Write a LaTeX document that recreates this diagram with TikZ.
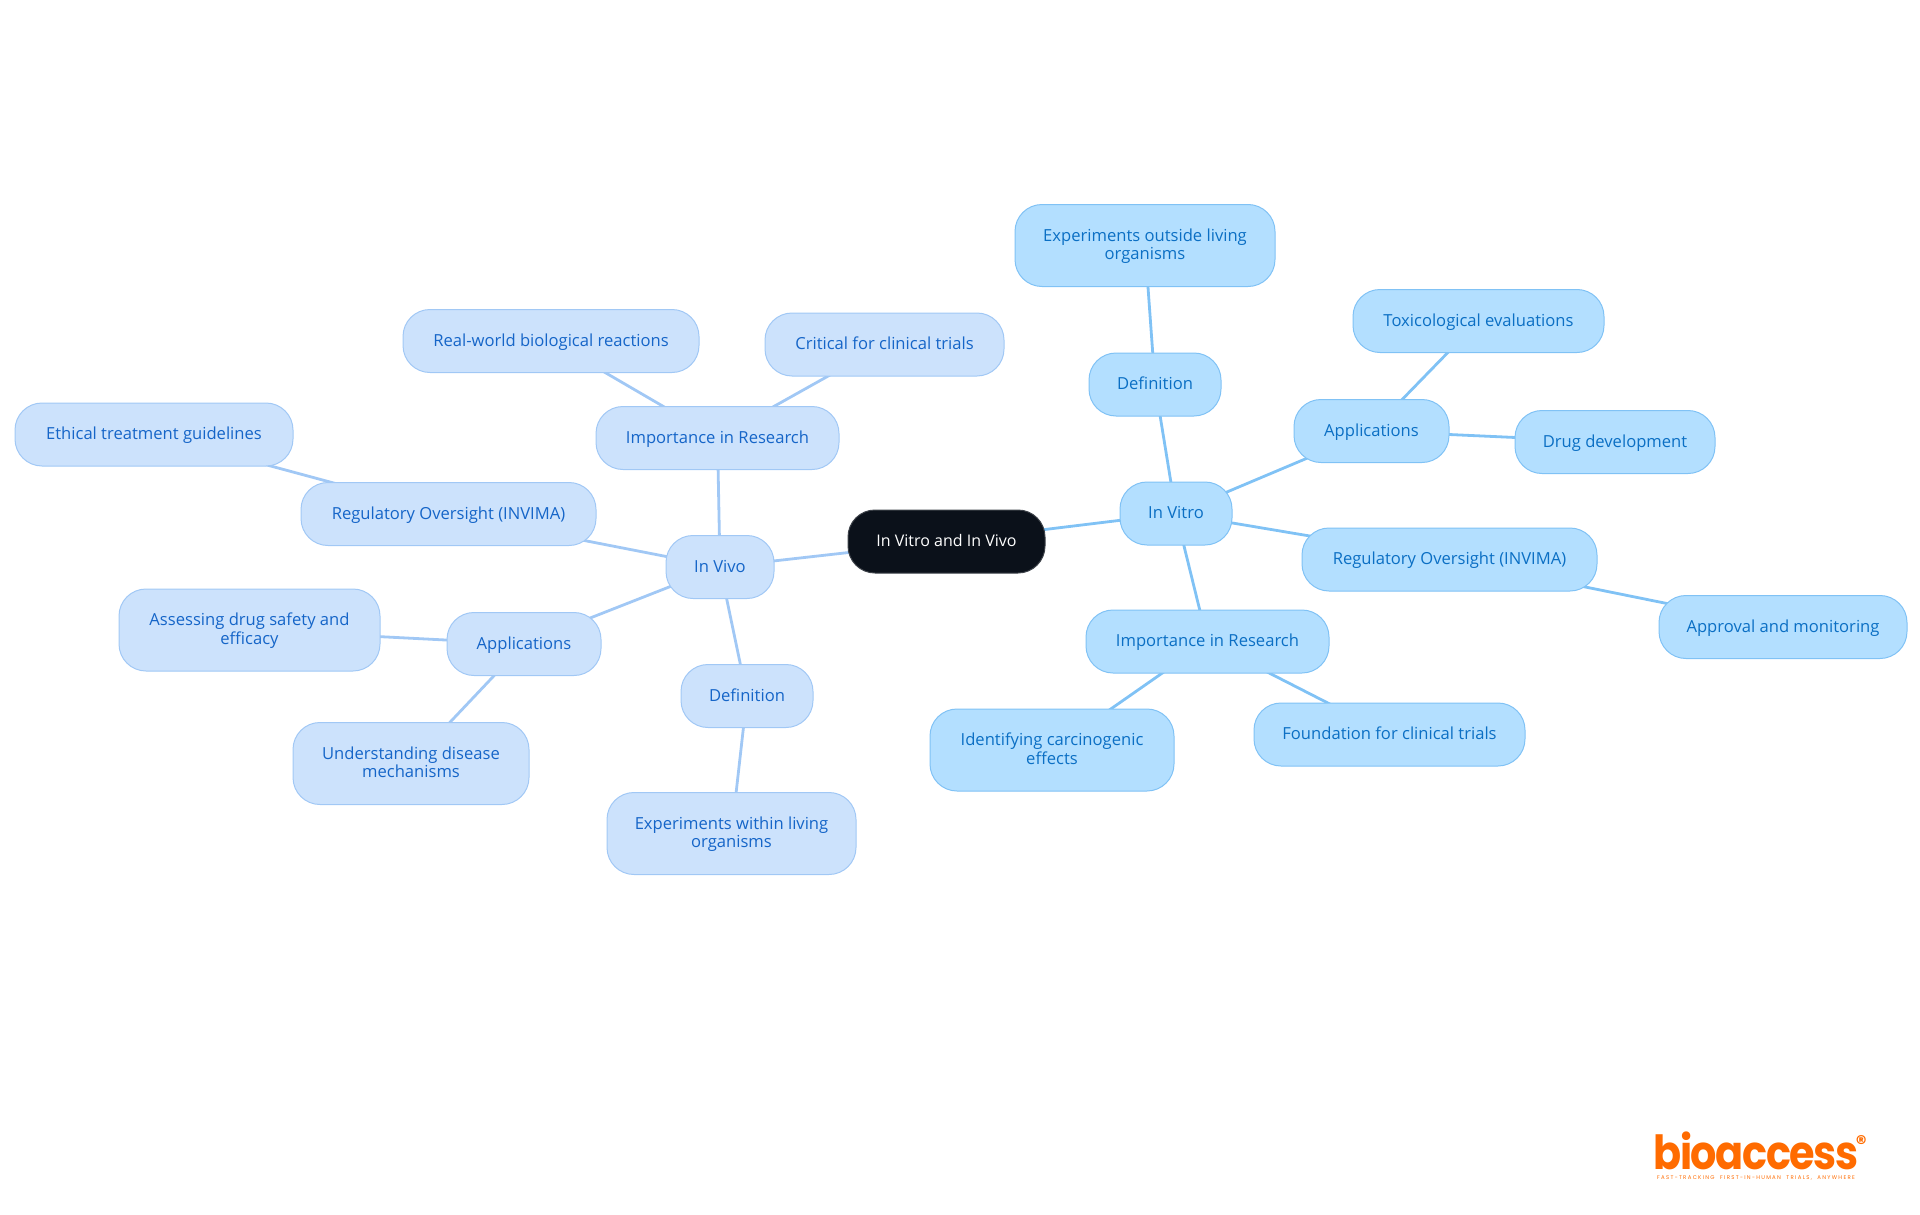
\documentclass[tikz,border=0pt]{standalone}
\usepackage{fontspec}
\setmainfont{Open Sans}
\newfontfamily\logofont[FakeStretch=0.88,LetterSpace=-3]{Poppins}
\newfontfamily\tagfont[LetterSpace=24,WordSpace=2]{Poppins}
\newfontfamily\regfont{Poppins}
\usetikzlibrary{positioning,backgrounds}
\definecolor{vitrofill}{HTML}{B3DFFF}
\definecolor{vitroline}{HTML}{80C2F5}
\definecolor{vitrotext}{HTML}{0B6FC4}
\definecolor{vivofill}{HTML}{CCE2FC}
\definecolor{vivoline}{HTML}{A1C8F5}
\definecolor{vivotext}{HTML}{1565C8}
\definecolor{rootfill}{HTML}{0B111A}
\definecolor{logoorange}{HTML}{FF6B00}
\begin{document}
\begin{tikzpicture}[x=1pt,y=-1pt,
						base/.style={rectangle,rounded corners=27pt,outer sep=0pt,inner sep=0pt,line width=1pt,align=center,minimum height=63pt,text height=12pt,text depth=2pt,font=\fontsize{16.6}{18.3}\selectfont},
						twoline/.style={minimum height=82pt,text height=30.3pt},
						rootnode/.style={base,draw=rootfill!80!white,fill=rootfill,text=white,font=\fontsize{16}{18.3}\selectfont},
						vitro/.style={base,draw=vitroline,fill=vitrofill,text=vitrotext},
						vivo/.style={base,draw=vivoline,fill=vivofill,text=vivotext},
						vitroedge/.style={draw=vitroline,line width=2.8pt},
						vivoedge/.style={draw=vivoline,line width=2.8pt}]
		\useasboundingbox (0,0) rectangle (1920,1215);
		\node[rootnode,minimum width=197pt]							(0)		at (946.5,541.5)	{In Vitro and In Vivo};

		\node[vitro,minimum width=112pt,right=75pt of 0,yshift=28pt]	(1)		{In Vitro};
		\node[vitro,minimum width=132pt,above=66pt of 1,xshift=-21pt]	(2)		{Definition};
		\node[vitro,twoline,minimum width=260pt,above=66.5pt of 2,xshift=-10pt]	(3)	{Experiments outside living\\organisms};
		\node[vitro,minimum width=155pt,right=62pt of 1,yshift=82.5pt]	(4)		{Applications};
		\node[vitro,minimum width=251pt,above=47pt of 4,xshift=107pt]	(5)		{Toxicological evaluations};
		\node[vitro,minimum width=200pt,right=66pt of 4,yshift=-11pt]	(6)		{Drug development};
		\node[vitro,minimum width=295pt,right=70pt of 1,yshift=-46pt]	(7)		{Regulatory Oversight (INVIMA)};
		\node[vitro,minimum width=248pt,right=62pt of 7,yshift=-67.5pt]	(8)		{Approval and monitoring};
		\node[vitro,minimum width=243pt,below=65pt of 1,xshift=31.5pt]	(9)		{Importance in Research};
		\node[vitro,twoline,minimum width=244pt,below=36pt of 9,xshift=-155.5pt]	(10)	{Identifying carcinogenic\\effects};
		\node[vitro,minimum width=271pt,below=30pt of 9,xshift=182pt]	(11)	{Foundation for clinical trials};

		\node[vivo,minimum width=108pt,left=74pt of 0,yshift=-25.5pt]	(12)	{In Vivo};
		\node[vivo,minimum width=243pt,above=66pt of 12,xshift=-2.5pt]	(13)	{Importance in Research};
		\node[vivo,minimum width=296pt,above=34pt of 13,xshift=-166.5pt]	(14)	{Real-world biological reactions};
		\node[vivo,minimum width=239pt,above=30.5pt of 13,xshift=167pt]	(15)	{Critical for clinical trials};
		\node[vivo,minimum width=295pt,left=70pt of 12,yshift=53pt]		(16)	{Regulatory Oversight (INVIMA)};
		\node[vivo,minimum width=278pt,left=8pt of 16,yshift=79.5pt]	(17)	{Ethical treatment guidelines};
		\node[vivo,minimum width=154pt,left=65pt of 12,yshift=-77pt]	(18)	{Applications};
		\node[vivo,twoline,minimum width=261pt,left=67pt of 18,yshift=14pt]	(19)	{Assessing drug safety and\\efficacy};
		\node[vivo,twoline,minimum width=236pt,below=47pt of 18,xshift=-113pt]	(20)	{Understanding disease\\mechanisms};
		\node[vivo,minimum width=132pt,below=66pt of 12,xshift=27pt]	(21)	{Definition};
		\node[vivo,twoline,minimum width=249pt,below=65pt of 21,xshift=-15.5pt]	(22)	{Experiments within living\\organisms};

		\begin{scope}[on background layer]
			\draw[vitroedge] (0.center) -- (1.center);
			\draw[vitroedge] (1.center) -- (2.center);
			\draw[vitroedge] (2.center) -- (3.center);
			\draw[vitroedge] (1.center) -- (4.center);
			\draw[vitroedge] (4.center) -- (5.center);
			\draw[vitroedge] (4.center) -- (6.center);
			\draw[vitroedge] (1.center) -- (7.center);
			\draw[vitroedge] (7.center) -- (8.center);
			\draw[vitroedge] (1.center) -- (9.center);
			\draw[vitroedge] (9.center) -- (10.center);
			\draw[vitroedge] (9.center) -- (11.center);
			\draw[vivoedge] (0.center) -- (12.center);
			\draw[vivoedge] (12.center) -- (13.center);
			\draw[vivoedge] (13.center) -- (14.center);
			\draw[vivoedge] (13.center) -- (15.center);
			\draw[vivoedge] (12.center) -- (16.center);
			\draw[vivoedge] (16.center) -- (17.center);
			\draw[vivoedge] (12.center) -- (18.center);
			\draw[vivoedge] (18.center) -- (19.center);
			\draw[vivoedge] (18.center) -- (20.center);
			\draw[vivoedge] (12.center) -- (21.center);
			\draw[vivoedge] (21.center) -- (22.center);
		\end{scope}

		\node[inner sep=0pt,text=logoorange,font=\logofont\fontsize{47}{47}\bfseries]	(23)	at (1756,1151)	{bioaccess};
		\node[inner sep=0pt,text=logoorange,font=\tagfont\fontsize{5.4}{6}\selectfont,below=5pt of 23]	(24)	{FAST-TRACKING FIRST-IN-HUMAN TRIALS, ANYWHERE};
		\node[inner sep=0pt,text=logoorange,font=\regfont\fontsize{21}{21}\bfseries,right=-3pt of 23,yshift=8pt]	(25)	{®};
	\end{tikzpicture}
\end{document}
